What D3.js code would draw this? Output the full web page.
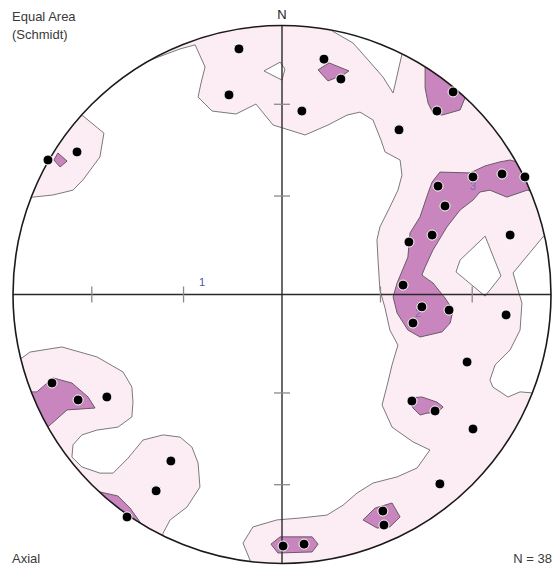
<!DOCTYPE html>
<html>
<head>
<meta charset="utf-8">
<script src="https://cdn.jsdelivr.net/npm/d3@7/dist/d3.min.js"></script>
<style>
  html, body { margin: 0; padding: 0; background: #ffffff; }
  svg { display: block; }
  text { font-family: "Liberation Sans", Arial, sans-serif; }
</style>
</head>
<body>
<svg id="net" width="556" height="568"></svg>
<script>
// Net coordinates: east / north, in percent of the primitive circle radius.
// Poles (axial data), N = 38
const poleEast = [-87.0, -76.2, -16.0, -19.7, 15.6, 21.9, 7.4, 63.6, 57.6, 43.5,
  71.0, 81.8, 90.3, 58.0, 60.6, 55.8, 47.2, 84.8, 45.0, 52.0,
  62.1, 48.7, 83.3, 68.8, 48.3, 56.9, 71.0, 58.7, 37.5, 37.9,
  0.4, 8.2, -85.5, -75.8, -65.1, -41.3, -46.8, -57.6];
const poleNorth = [50.0, 53.0, 91.3, 74.2, 87.5, 80.1, 68.2, 75.3, 68.2, 61.2,
  43.7, 44.8, 43.7, 40.3, 32.9, 22.1, 19.5, 22.1, 3.5, -4.6,
  -5.8, -10.6, -7.6, -25.1, -39.6, -43.3, -50.0, -70.4, -80.5, -85.7,
  -93.5, -92.8, -32.9, -39.2, -38.1, -61.9, -73.0, -82.7];

// Lower contour level (light fill)
const levelLow = [
  // north-west rim
  [[-110, 72], [-74.0, 66.4], [-66.2, 60.0], [-67.7, 51.1], [-74.0, 42.6], [-77.7, 38.8],
   [-85.1, 37.0], [-92.6, 36.2], [-110, 34]],
  // north, east and south band
  [[-56.5, 94.6], [-51.7, 86.1], [-37.9, 91.3], [-32.3, 92.8], [-28.6, 84.6], [-30.1, 78.6],
   [-31.2, 73.4], [-26.0, 68.2], [-17.1, 67.1], [-9.7, 70.8], [-3.3, 63.0], [8.6, 59.3],
   [17.1, 63.0], [24.2, 66.7], [29.0, 67.8], [33.8, 64.9], [36.8, 57.4], [38.3, 53.0],
   [43.9, 50.0], [44.6, 44.4], [43.1, 38.8], [40.1, 32.5], [36.4, 25.1], [35.3, 20.3],
   [35.7, 12.8], [36.4, 1.7], [38.3, -5.0], [40.1, -13.2], [43.1, -18.8], [40.9, -26.2],
   [39.4, -32.5], [37.2, -41.1], [40.9, -49.3], [48.7, -54.8], [55.0, -57.8], [50.2, -64.5],
   [42.8, -67.8], [33.8, -70.1], [27.9, -73.8], [22.7, -78.3], [16.7, -82.0], [6.7, -83.1],
   [-1.9, -83.8], [-10.8, -86.4], [-14.5, -92.4], [-11.9, -98.7], [-12.6, -106.1],
   [43.9, -113.6], [110.8, -65.2], [103.3, -39.2], [93.3, -36.6], [88.5, -36.2],
   [84.0, -38.1], [78.4, -34.4], [77.3, -31.8], [79.2, -26.2], [84.8, -20.6], [88.5, -13.2],
   [89.2, -3.2], [87.4, 2.8], [85.9, 8.0], [97.0, 21.4], [107.1, 24.0], [110.8, 87.2],
   [47.6, 102.0], [44.6, 89.4], [41.3, 74.9], [37.5, 80.9], [32.7, 86.4], [26.4, 93.5],
   [16.7, 99.1], [14.1, 109.5], [-56.5, 109.5]],
  // south-west rim
  [[-103.0, -24.3], [-96.7, -23.6], [-93.7, -21.4], [-81.8, -19.5], [-68.8, -23.2],
   [-59.1, -28.8], [-55.8, -34.4], [-55.4, -40.0], [-55.8, -45.5], [-61.0, -49.3],
   [-68.8, -50.4], [-74.4, -52.2], [-77.7, -55.9], [-78.1, -60.4], [-74.4, -64.1],
   [-67.7, -66.4], [-62.8, -66.4], [-57.2, -60.8], [-51.7, -54.1], [-44.2, -52.2],
   [-37.9, -53.0], [-33.5, -56.7], [-31.2, -62.6], [-30.5, -71.6], [-35.3, -79.0],
   [-41.6, -83.8], [-44.2, -88.7], [-45.4, -98.7], [-82.5, -87.5], [-104.8, -58.0]]
];

// Openings inside the lower level
const levelLowGaps = [
  [[-6.7, 83.1], [-0.7, 86.4], [1.1, 83.8], [0.0, 79.7]],
  [[66.2, 12.8], [75.5, 21.7], [81.4, 6.9], [75.5, -0.6], [64.7, 8.4]]
];

// Upper contour level (dark fill)
const levelHigh = [
  [[-83.3, 52.6], [-79.9, 49.6], [-82.5, 47.4], [-84.8, 50.0]],
  [[13.4, 83.5], [17.5, 86.1], [24.9, 83.1], [22.7, 81.6], [17.1, 79.4]],
  [[53.2, 84.9], [58.7, 90.9], [73.6, 79.7], [68.0, 73.0], [66.2, 68.6], [59.5, 66.7],
   [56.1, 67.5], [54.3, 71.2], [53.2, 76.8]],
  [[55.8, 41.8], [58.7, 45.5], [69.9, 45.2], [75.5, 47.8], [81.0, 49.3], [84.8, 50.0],
   [88.5, 48.9], [94.1, 46.3], [94.1, 38.1], [91.1, 38.8], [83.6, 36.2], [77.3, 38.8],
   [73.6, 38.1], [71.0, 35.1], [66.2, 31.4], [61.3, 25.1], [56.1, 16.5], [53.2, 10.2],
   [52.0, 7.2], [56.1, 4.3], [60.6, -1.3], [63.6, -5.8], [62.5, -10.6], [59.5, -13.9],
   [51.3, -15.8], [46.8, -13.2], [42.8, -6.9], [41.3, -0.9], [42.8, 4.3], [46.8, 13.9],
   [47.6, 22.9], [51.3, 28.8], [54.3, 37.7]],
  [[46.8, -38.5], [52.0, -38.1], [57.6, -40.0], [59.9, -41.8], [58.0, -43.7], [53.9, -44.1],
   [51.3, -44.8], [48.7, -42.2]],
  [[30.1, -83.8], [34.6, -79.4], [40.9, -77.5], [43.9, -82.7], [40.1, -86.4], [35.3, -86.8]],
  [[-4.1, -92.8], [-0.7, -90.1], [11.2, -90.1], [13.4, -92.8], [11.2, -95.7], [-1.5, -96.1]],
  [[-95.5, -36.2], [-91.1, -36.2], [-85.1, -31.0], [-78.1, -32.9], [-72.1, -38.1],
   [-69.5, -42.2], [-79.9, -42.9], [-86.2, -48.5], [-90.7, -52.2]],
  [[-72.1, -73.4], [-67.7, -73.4], [-61.0, -74.9], [-56.5, -79.4], [-52.8, -84.6],
   [-49.1, -89.4]]
];

// Contour level labels
const levelLabels = ["1", "2", "3"];
const levelLabelAt = [[-29.7, 3.0], [50.6, -8.4], [71.0, 39.0]];

// Graticule ticks: angular distance from the centre, degrees
const tickAngles = [30, 60];

const cx = 282, cy = 294.5, R = 269;
const x = d3.scaleLinear().domain([-100, 100]).range([cx - R, cx + R]);
const y = d3.scaleLinear().domain([-100, 100]).range([cy + R, cy - R]);

// Lambert equal-area: radial distance (percent of radius) for an angle from the centre
const eqArea = a => 100 * Math.SQRT2 * Math.sin((a * Math.PI / 180) / 2);

const svg = d3.select("#net");

svg.append("defs").append("clipPath").attr("id", "prim")
  .append("circle").attr("cx", x(0)).attr("cy", y(0)).attr("r", x(100) - x(0));

const outline = d3.line().x(d => x(d[0])).y(d => y(d[1])).curve(d3.curveLinearClosed);

const contours = svg.append("g").attr("clip-path", "url(#prim)");

contours.selectAll("path.low").data(levelLow).join("path")
  .attr("class", "low").attr("d", outline)
  .attr("fill", "#fcecf3").attr("stroke", "#7a7a7a").attr("stroke-width", 1)
  .attr("stroke-linejoin", "round");

contours.selectAll("path.gap").data(levelLowGaps).join("path")
  .attr("class", "gap").attr("d", outline)
  .attr("fill", "#ffffff").attr("stroke", "#7a7a7a").attr("stroke-width", 1)
  .attr("stroke-linejoin", "round");

contours.selectAll("path.high").data(levelHigh).join("path")
  .attr("class", "high").attr("d", outline)
  .attr("fill", "#c985be").attr("stroke", "#6a5a68").attr("stroke-width", 1)
  .attr("stroke-linejoin", "round");

// Cross-hair axes
const axes = svg.append("g").attr("stroke", "#2a2a2a").attr("stroke-width", 1.4);
axes.append("line").attr("x1", x(-100)).attr("x2", x(100)).attr("y1", y(0)).attr("y2", y(0));
axes.append("line").attr("x1", x(0)).attr("x2", x(0)).attr("y1", y(100)).attr("y2", y(-100));

// Ticks on both axes
const ticks = svg.append("g").attr("stroke", "#8a8a8a").attr("stroke-width", 1.3);
const tickPos = [];
tickAngles.forEach(a => { tickPos.push(eqArea(a)); tickPos.push(-eqArea(a)); });
ticks.selectAll("line.h").data(tickPos).join("line").attr("class", "h")
  .attr("x1", d => x(d)).attr("x2", d => x(d)).attr("y1", y(0) - 8).attr("y2", y(0) + 8);
ticks.selectAll("line.v").data(tickPos).join("line").attr("class", "v")
  .attr("y1", d => y(d)).attr("y2", d => y(d)).attr("x1", x(0) - 8).attr("x2", x(0) + 8);

// Contour level labels
svg.selectAll("text.lvl").data(levelLabels).join("text").attr("class", "lvl")
  .attr("x", (d, i) => x(levelLabelAt[i][0])).attr("y", (d, i) => y(levelLabelAt[i][1]))
  .attr("font-size", 11).attr("fill", "#4a56a8").attr("text-anchor", "middle")
  .attr("fill-opacity", (d, i) => i === 0 ? 1 : 0.6)
  .text(d => d);

// Primitive circle
svg.append("circle").attr("cx", x(0)).attr("cy", y(0)).attr("r", x(100) - x(0))
  .attr("fill", "none").attr("stroke", "#1a1a1a").attr("stroke-width", 1.6);

// Poles
svg.append("g").selectAll("circle").data(poleEast).join("circle")
  .attr("cx", d => x(d)).attr("cy", (d, i) => y(poleNorth[i])).attr("r", 5)
  .attr("fill", "#000000").attr("stroke", "#ffffff").attr("stroke-width", 1);

// Annotations
const note = svg.append("g").attr("fill", "#3a3a3a").attr("font-size", 13);
note.append("text").attr("x", 12).attr("y", 21).text("Equal Area");
note.append("text").attr("x", 12).attr("y", 39).text("(Schmidt)");
note.append("text").attr("x", 12).attr("y", 563).text("Axial");
note.append("text").attr("x", 552).attr("y", 563).attr("text-anchor", "end").text("N = 38");
note.append("text").attr("x", x(0)).attr("y", 19).attr("text-anchor", "middle")
  .attr("fill", "#1a1a1a").text("N");
</script>
</body>
</html>
